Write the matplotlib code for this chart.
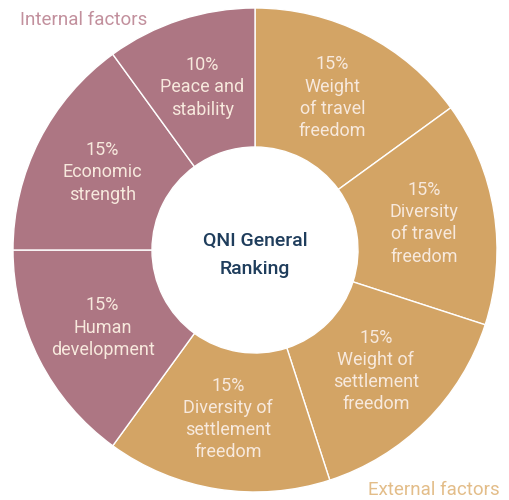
import numpy as np
import matplotlib
matplotlib.use("Agg")
import matplotlib.pyplot as plt

# data, clockwise from 12 o'clock
names = ["Weight\nof travel\nfreedom", "Diversity\nof travel\nfreedom",
         "Weight of\nsettlement\nfreedom", "Diversity of\nsettlement\nfreedom",
         "Human\ndevelopment", "Economic\nstrength", "Peace and\nstability"]
shares = [15, 15, 15, 15, 15, 15, 10]
groups = ["external", "external", "external", "external",
          "internal", "internal", "internal"]

group_colors = {"external": "#d3a465", "internal": "#ad7683"}
group_text = {"external": "#e3bd89", "internal": "#c2909d"}

plt.rcParams['font.family'] = ['Roboto', 'DejaVu Sans']

fig = plt.figure(figsize=(5.1, 5.0), dpi=100)
ax = fig.add_axes([0, 0, 1, 1])

cx, cy = 255, 250
r_out, r_in = 242, 103

wedges, _ = ax.pie(shares, colors=[group_colors[g] for g in groups],
                   startangle=90, counterclock=False, radius=r_out,
                   center=(cx, cy), frame=True,
                   wedgeprops=dict(width=r_out - r_in, edgecolor='white',
                                   linewidth=1.0))
ax.set_xlim(0, 510)
ax.set_ylim(0, 500)
ax.set_aspect('equal')
ax.axis('off')

# labels sit in the middle of each ring segment
r_lab = 171
for w, name, val in zip(wedges, names, shares):
    mid = np.deg2rad((w.theta1 + w.theta2) / 2)
    x = cx + r_lab * np.cos(mid)
    y = cy + r_lab * np.sin(mid)
    ax.text(x, y, f"{val}%\n{name}", ha='center', va='center',
            fontsize=13, fontweight='normal', color='#f7e9dd',
            linespacing=1.3)

ax.text(cx, cy - 5, "QNI General\nRanking", ha='center', va='center',
        fontsize=14, fontweight='medium', color='#1f3d5c', linespacing=1.7)

ax.text(84, 480, "Internal factors", ha='center', va='center',
        fontsize=13.5, fontweight='normal', color=group_text["internal"])
ax.text(434, 10, "External factors", ha='center', va='center',
        fontsize=13.5, fontweight='normal', color=group_text["external"])

fig.savefig("out.png", dpi=100, facecolor='white')
